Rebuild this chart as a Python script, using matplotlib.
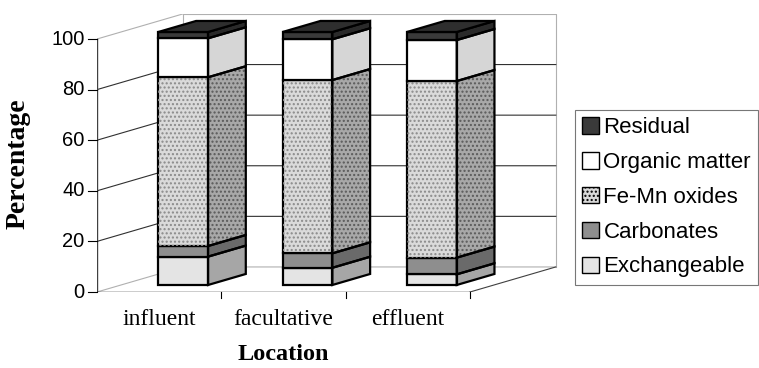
import numpy as np
import matplotlib
matplotlib.use('Agg')
import matplotlib.pyplot as plt
from matplotlib.patches import Polygon, Patch

# --- data (percent of total) ---
locations = ["influent", "facultative", "effluent"]
fractions = ["Exchangeable", "Carbonates", "Fe-Mn oxides", "Organic matter", "Residual"]
exchangeable = [11.2, 6.8, 4.2]
carbonates = [4.2, 5.7, 6.6]
fe_mn = [66.7, 68.5, 69.8]
organic = [15.4, 16.1, 16.2]
residual = [2.5, 2.9, 3.2]
yticks = [0, 20, 40, 60, 80, 100]

# --- styles ---
front_col = ["#e4e4e4", "#8e8e8e", "#dadada", "#ffffff", "#3a3a3a"]
side_col = ["#a6a6a6", "#6a6a6a", "#a8a8a8", "#d6d6d6", "#2a2a2a"]
hatches = ["", "", "....", "", ""]
DX, DY = 0.69, 9.9        # depth offset of the back wall (data units)
d0, d1 = 0.28, 0.72       # bar depth extent
bw = 0.40                 # bar width (category units)

fig = plt.figure(figsize=(7.59, 3.68), dpi=100)
ax = fig.add_axes([97 / 759, (368 - 292) / 368, 3.75 * 124.33 / 759, 110 * 2.53 / 368])
ax.set_xlim(0, 3.75)
ax.set_ylim(0, 110)
ax.axis('off')

n = len(locations)
grey = "#b0b0b0"

# walls and floor
ax.plot([DX, DX, n + DX, n + DX], [DY, 100 + DY, 100 + DY, DY], color=grey, lw=0.8, zorder=1)
ax.plot([0, DX], [100, 100 + DY], color=grey, lw=0.8, zorder=1)
ax.plot([0, DX, n + DX], [0, DY, DY], color=grey, lw=0.8, zorder=1)
for v in yticks[1:-1]:
    ax.plot([0, DX, n + DX], [v, v + DY, v + DY], color="#303030", lw=0.8, zorder=1)
ax.plot([0, 0], [0, 100], color="#404040", lw=1.0, zorder=2)
ax.plot([0, n], [0, 0], color="black", lw=1.0, zorder=2)
ax.plot([n, n + DX], [0, DY], color="#404040", lw=0.8, zorder=2)

# ticks
for v in yticks:
    ax.plot([-0.07, 0], [v, v], color="black", lw=0.8, clip_on=False)
    ax.text(-0.1, v, str(v), ha='right', va='center', fontsize=14.5,
            family='Liberation Sans', clip_on=False)
for i in range(1, n + 1):
    ax.plot([i, i], [0, -2.2], color="black", lw=0.8, clip_on=False)
for i, lab in enumerate(locations):
    ax.text(i + 0.5, -11, lab, ha='center', va='center', fontsize=17,
            family='Liberation Serif', clip_on=False)

ax.text(1.5, -24.8, "Location", ha='center', va='center', fontsize=17.5,
        family='Liberation Serif', weight='bold', clip_on=False)
fig.text(18 / 759, 1 - 164 / 368, "Percentage", rotation=90, ha='center', va='center',
         fontsize=20, family='Liberation Serif', weight='bold')

# bars
series = np.array([exchangeable, carbonates, fe_mn, organic, residual])
lw = 1.6
for i in range(n):
    xl = i + 0.5 - bw / 2
    xr = xl + bw
    bottom = 0.0
    for k in range(len(fractions)):
        h = series[k, i]
        # front face
        ax.bar(xl + d0 * DX, h, bw, bottom=bottom + d0 * DY, align='edge',
               color=front_col[k], edgecolor='black', linewidth=lw, zorder=5)
        if hatches[k]:
            ax.bar(xl + d0 * DX, h, bw, bottom=bottom + d0 * DY, align='edge',
                   color='none', edgecolor='#8a8a8a', hatch=hatches[k], linewidth=0, zorder=5)
        # side face
        side = [(xr + d0 * DX, bottom + d0 * DY), (xr + d1 * DX, bottom + d1 * DY),
                (xr + d1 * DX, bottom + h + d1 * DY), (xr + d0 * DX, bottom + h + d0 * DY)]
        ax.add_patch(Polygon(side, closed=True, facecolor=side_col[k], edgecolor='none', zorder=4))
        if hatches[k]:
            ax.add_patch(Polygon(side, closed=True, facecolor='none', edgecolor='#5a5a5a',
                                 hatch=hatches[k], linewidth=0, zorder=4))
        ax.add_patch(Polygon(side, closed=True, facecolor='none', edgecolor='black',
                             linewidth=lw, zorder=6))
        bottom += h
    top = [(xl + d0 * DX, bottom + d0 * DY), (xl + d1 * DX, bottom + d1 * DY),
           (xr + d1 * DX, bottom + d1 * DY), (xr + d0 * DX, bottom + d0 * DY)]
    ax.add_patch(Polygon(top, closed=True, facecolor='#2e2e2e', edgecolor='black',
                         linewidth=lw, zorder=6))

# legend
handles = []
for k in reversed(range(len(fractions))):
    handles.append(Patch(facecolor=front_col[k], edgecolor='black', hatch=hatches[k],
                         label=fractions[k]))
leg = fig.legend(handles=handles, loc='upper left', bbox_to_anchor=(575 / 759, 1 - 110 / 368),
                 frameon=True, fancybox=False, prop={'family': 'Liberation Sans', 'size': 16},
                 handlelength=0.75, handleheight=0.75, handletextpad=0.2, labelspacing=0.62,
                 borderpad=0.33, borderaxespad=0)
leg.get_frame().set_edgecolor('#555555')
leg.get_frame().set_linewidth(0.8)

fig.savefig('out.png', dpi=100)
